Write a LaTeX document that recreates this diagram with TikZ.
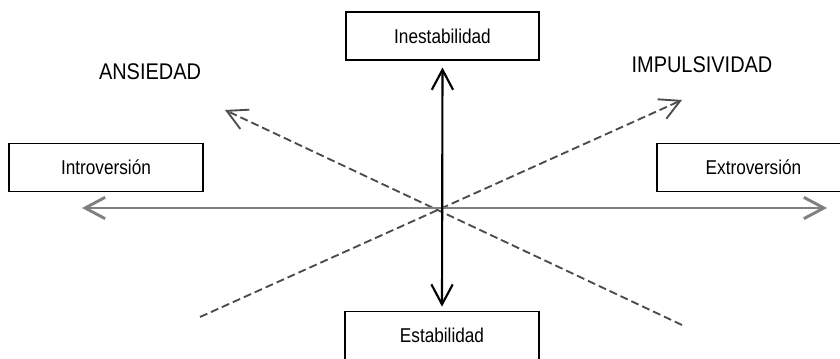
\documentclass[tikz,border=0pt]{standalone}
\usepackage{fontspec}
\setmainfont{Liberation Sans}
\usetikzlibrary{arrows.meta}
\tikzset{>={Straight Barb[length=15pt,width=16pt]}}
\newcommand{\narrowtext}[2][0.86]{\scalebox{#1}[1]{#2}}
\tikzset{
  factor/.style={draw=black,line width=1.3pt,fill=white,minimum width=145pt,minimum height=36pt,inner sep=0pt,font=\fontsize{15}{17}\selectfont},
  pole/.style={font=\fontsize{17}{19}\selectfont},
  diag/.style={line width=1.4pt,black!70,dash pattern=on 6pt off 3pt}
}

\begin{document}
\begin{tikzpicture}[x=0.75pt,y=-0.75pt]
\useasboundingbox (0,0) rectangle (840,359);
\clip (0,0) rectangle (840,359);
    \coordinate (centre) at (442,208);
    \coordinate (west) at (82,208);
    \coordinate (east) at (827,208);
    \coordinate (nw) at (225,110);
    \coordinate (se) at (682,325);
    \coordinate (ne) at (682,100);
    \coordinate (sw) at (200,317);
    \node[factor] (inest) at (442.5,36) {\narrowtext{Inestabilidad}};
    \node[factor] (estab) at (442,335.5) {\narrowtext{Estabilidad}};
    \node[factor] (intro) at (106,167.5) {\narrowtext{Introversión}};
    \node[factor] (extro) at (753.5,167.5) {\narrowtext{Extroversión}};
    \node[pole] (ansie) at (150,72) {\narrowtext[0.88]{ANSIEDAD}};
    \node[pole] (impul) at (702,65) {\narrowtext[0.88]{IMPULSIVIDAD}};
    \draw[diag,->] (se)--(nw);
    \draw[diag,->] (sw)--(ne);
    \draw[<->,line width=2.2pt,gray](west)--(east);
    \draw[<->,line width=1.6pt,black,shorten <=5pt,shorten >=3pt](inest.south)--(estab.north);
\end{tikzpicture}
\end{document}
